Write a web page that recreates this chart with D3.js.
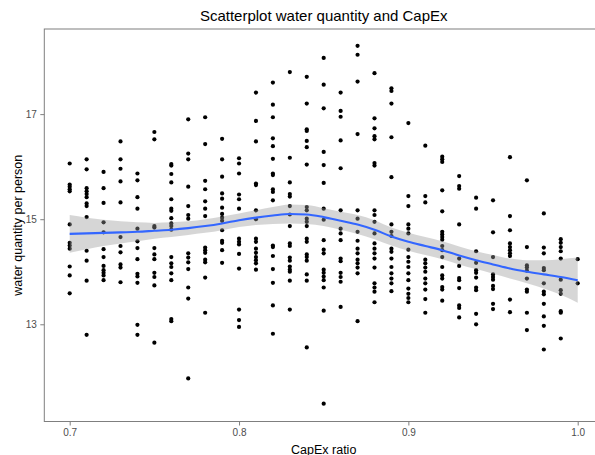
<!DOCTYPE html>
<html>
<head>
<meta charset="utf-8">
<script src="https://cdn.jsdelivr.net/npm/d3@7"></script>
<style>
  html, body { margin: 0; padding: 0; background: #fff; }
  svg { display: block; font-family: "Liberation Sans", Arial, Helvetica, sans-serif; }
</style>
</head>
<body>
<svg id="chart" width="595" height="455"></svg>
<script>
// CapEx ratio levels (one column of observations per level)
const capexLevels = [0.70, 0.71, 0.72, 0.73, 0.74, 0.75, 0.76, 0.77, 0.78, 0.79,
  0.80, 0.81, 0.82, 0.83, 0.84, 0.85, 0.86, 0.87, 0.88, 0.89,
  0.90, 0.91, 0.92, 0.93, 0.94, 0.95, 0.96, 0.97, 0.98, 0.99, 1.00];

// water quantity per person observed at each CapEx level
const waterByLevel = [
  [16.06, 15.66, 15.62, 15.57, 15.53, 14.90, 14.55, 14.50, 14.44, 14.10, 13.93, 13.59],
  [16.14, 15.95, 15.59, 15.53, 15.48, 15.42, 15.30, 15.25, 15.04, 14.40, 14.21, 13.83, 12.80],
  [15.90, 15.59, 15.31, 14.94, 14.75, 14.43, 14.28, 14.11, 14.03, 13.98, 13.93, 13.84],
  [16.48, 16.14, 15.96, 15.72, 15.32, 14.66, 14.49, 14.37, 14.14, 14.08, 13.80],
  [15.87, 15.74, 15.42, 15.20, 14.82, 14.58, 14.45, 14.24, 13.96, 13.91, 13.79, 12.99, 12.80],
  [16.66, 16.52, 14.87, 14.84, 14.45, 14.33, 14.24, 13.98, 13.90, 13.74, 12.65],
  [16.05, 16.02, 15.86, 15.70, 15.38, 15.20, 15.16, 15.02, 14.92, 14.87, 14.80, 14.28, 14.16, 14.09, 13.97, 13.84, 13.10, 13.06],
  [16.90, 16.25, 16.14, 15.62, 15.25, 15.08, 15.01, 14.35, 14.27, 14.18, 14.05, 13.70, 13.49, 11.97],
  [16.94, 16.43, 15.73, 15.57, 15.34, 15.20, 15.06, 14.46, 14.41, 14.36, 14.23, 14.18, 13.89, 13.22],
  [16.53, 16.14, 15.81, 15.49, 15.39, 15.22, 15.10, 15.03, 14.97, 14.79, 14.59, 14.55, 14.41, 14.17],
  [16.16, 16.06, 15.87, 15.47, 15.38, 15.20, 14.63, 14.57, 14.52, 14.34, 14.06, 13.28, 13.08, 12.95],
  [17.41, 16.87, 16.48, 15.68, 15.65, 15.17, 15.00, 14.63, 14.57, 14.44, 14.36, 14.28, 14.22, 14.16, 14.04],
  [17.60, 17.18, 16.94, 16.54, 16.39, 16.15, 15.87, 15.84, 15.57, 15.52, 15.36, 14.50, 14.47, 14.30, 14.05, 13.79, 13.36, 12.82],
  [17.80, 16.17, 15.70, 15.48, 15.43, 15.25, 15.09, 14.87, 14.54, 14.49, 14.27, 14.21, 14.10, 14.04, 14.00, 13.83, 13.28],
  [17.71, 17.20, 16.71, 16.68, 16.49, 16.37, 16.04, 15.23, 15.17, 15.01, 14.95, 14.87, 14.63, 14.57, 14.33, 14.28, 14.21, 13.95, 13.83, 12.56],
  [18.07, 17.56, 17.11, 16.28, 16.03, 15.69, 15.20, 14.99, 14.60, 14.42, 14.35, 14.04, 13.98, 13.91, 13.84, 13.70, 13.26, 11.49],
  [17.41, 17.06, 16.95, 16.50, 15.97, 15.17, 14.82, 14.73, 14.60, 14.25, 14.20, 13.98, 13.90, 13.81, 13.33],
  [18.30, 18.13, 17.62, 16.62, 15.17, 15.01, 14.76, 14.59, 14.44, 14.35, 14.23, 14.16, 14.08, 13.97, 13.06],
  [17.78, 16.92, 16.73, 16.58, 16.52, 16.07, 16.02, 15.17, 15.08, 14.95, 14.73, 14.54, 14.44, 14.35, 14.25, 14.08, 13.78, 13.70, 13.62, 13.42],
  [17.49, 17.44, 17.20, 16.56, 15.80, 14.90, 14.76, 14.68, 14.44, 14.38, 14.25, 14.09, 13.97, 13.87, 13.78, 13.63],
  [16.83, 15.44, 15.25, 14.90, 14.82, 14.73, 14.42, 14.28, 14.19, 14.09, 13.97, 13.84, 13.68, 13.58, 13.50, 13.42],
  [16.40, 15.44, 15.32, 14.23, 14.16, 14.08, 14.00, 13.87, 13.78, 13.66, 13.48, 13.22],
  [16.19, 16.14, 16.09, 15.55, 15.15, 14.76, 14.71, 14.66, 14.61, 14.49, 14.41, 14.28, 14.09, 13.93, 13.87, 13.71, 13.66, 13.45],
  [15.82, 15.63, 15.58, 14.90, 14.25, 14.11, 13.88, 13.84, 13.69, 13.36, 13.31, 13.13],
  [15.41, 15.20, 14.39, 14.17, 14.03, 13.98, 13.89, 13.70, 13.65, 13.20, 13.00],
  [15.36, 14.75, 14.28, 13.95, 13.90, 13.85, 13.73, 13.67, 13.39, 13.29],
  [16.18, 15.06, 14.79, 14.54, 14.47, 14.41, 14.35, 14.30, 13.47, 13.23],
  [15.74, 14.47, 14.12, 14.08, 14.02, 13.87, 13.66, 13.62, 13.22, 12.89],
  [15.11, 14.46, 14.35, 14.07, 14.03, 13.78, 13.62, 13.57, 13.39, 13.15, 12.97, 12.52],
  [14.62, 14.55, 14.47, 14.39, 14.25, 13.85, 13.65, 13.58, 13.25, 13.22, 12.73],
  [14.24, 13.78]
];

// loess fit of water quantity on CapEx ratio, with its standard-error half width
const smoothX   = [0.70, 0.71, 0.72, 0.73, 0.74, 0.75, 0.76, 0.77, 0.78, 0.79, 0.80,
  0.81, 0.82, 0.83, 0.84, 0.85, 0.86, 0.87, 0.88, 0.89, 0.90,
  0.91, 0.92, 0.93, 0.94, 0.95, 0.96, 0.97, 0.98, 0.99, 1.00];
const smoothFit = [14.72, 14.73, 14.74, 14.75, 14.76, 14.78, 14.80, 14.83, 14.87, 14.92, 14.98,
  15.03, 15.07, 15.10, 15.09, 15.04, 14.97, 14.90, 14.80, 14.67, 14.57,
  14.49, 14.41, 14.31, 14.22, 14.14, 14.06, 14.00, 13.95, 13.90, 13.84];
const smoothSe  = [0.36, 0.30, 0.25, 0.21, 0.18, 0.15, 0.14, 0.13, 0.13, 0.13, 0.13,
  0.14, 0.16, 0.18, 0.18, 0.17, 0.17, 0.18, 0.18, 0.17, 0.17,
  0.17, 0.17, 0.17, 0.17, 0.18, 0.19, 0.22, 0.27, 0.34, 0.43];

const xTicks = [0.7, 0.8, 0.9, 1.0];
const yTicks = [13, 15, 17];

const titleText = "Scatterplot water quantity and CapEx";
const xTitle = "CapEx ratio";
const yTitle = "water quantity per person";

// ---- layout ----
const panel = { left: 44.3, right: 603.1, top: 29, bottom: 421.5 };

const x = d3.scaleLinear().domain([0.685, 1.015]).range([panel.left, panel.right]);
const y = d3.scaleLinear().domain([11.15, 18.62]).range([panel.bottom, panel.top]);

const svg = d3.select("#chart");

// observations
const points = capexLevels.flatMap((cx, i) => waterByLevel[i].map(w => ({ cx, w })));
svg.append("g")
  .selectAll("circle")
  .data(points)
  .join("circle")
  .attr("cx", d => x(d.cx))
  .attr("cy", d => y(d.w))
  .attr("r", 2.1)
  .attr("fill", "#000");

// confidence ribbon and smooth line
const smooth = smoothX.map((sx, i) => ({ sx, fit: smoothFit[i], se: smoothSe[i] }));
svg.append("path")
  .datum(smooth)
  .attr("fill", "#999999")
  .attr("fill-opacity", 0.4)
  .attr("d", d3.area()
    .x(d => x(d.sx))
    .y0(d => y(d.fit - d.se))
    .y1(d => y(d.fit + d.se))
    .curve(d3.curveMonotoneX));

svg.append("path")
  .datum(smooth)
  .attr("fill", "none")
  .attr("stroke", "#3366FF")
  .attr("stroke-width", 2.1)
  .attr("d", d3.line()
    .x(d => x(d.sx))
    .y(d => y(d.fit))
    .curve(d3.curveMonotoneX));

// panel border
svg.append("rect")
  .attr("x", panel.left)
  .attr("y", panel.top)
  .attr("width", panel.right - panel.left)
  .attr("height", panel.bottom - panel.top)
  .attr("fill", "none")
  .attr("stroke", "#7f7f7f")
  .attr("stroke-width", 1);

// axes
const xAxis = svg.append("g")
  .attr("transform", `translate(0,${panel.bottom})`)
  .call(d3.axisBottom(x).tickValues(xTicks).tickFormat(d3.format(".1f")).tickSize(4).tickPadding(3));
const yAxis = svg.append("g")
  .attr("transform", `translate(${panel.left},0)`)
  .call(d3.axisLeft(y).tickValues(yTicks).tickFormat(d3.format("d")).tickSize(4).tickPadding(3.5));

[xAxis, yAxis].forEach(g => {
  g.select(".domain").remove();
  g.selectAll(".tick line").attr("stroke", "#7f7f7f");
  g.selectAll(".tick text")
    .attr("fill", "#4d4d4d")
    .style("font-size", "10px")
    .style("font-family", "'Liberation Sans', Arial, sans-serif");
});

// titles
svg.append("text")
  .attr("x", (panel.left + panel.right) / 2)
  .attr("y", 21)
  .attr("text-anchor", "middle")
  .style("font-size", "15px")
  .attr("fill", "#000")
  .text(titleText);

svg.append("text")
  .attr("x", (panel.left + panel.right) / 2)
  .attr("y", 453.5)
  .attr("text-anchor", "middle")
  .style("font-size", "12.5px")
  .attr("fill", "#000")
  .text(xTitle);

svg.append("text")
  .attr("transform", `translate(21.5,${(panel.top + panel.bottom) / 2}) rotate(-90)`)
  .attr("text-anchor", "middle")
  .style("font-size", "12.5px")
  .attr("fill", "#000")
  .text(yTitle);
</script>
</body>
</html>
